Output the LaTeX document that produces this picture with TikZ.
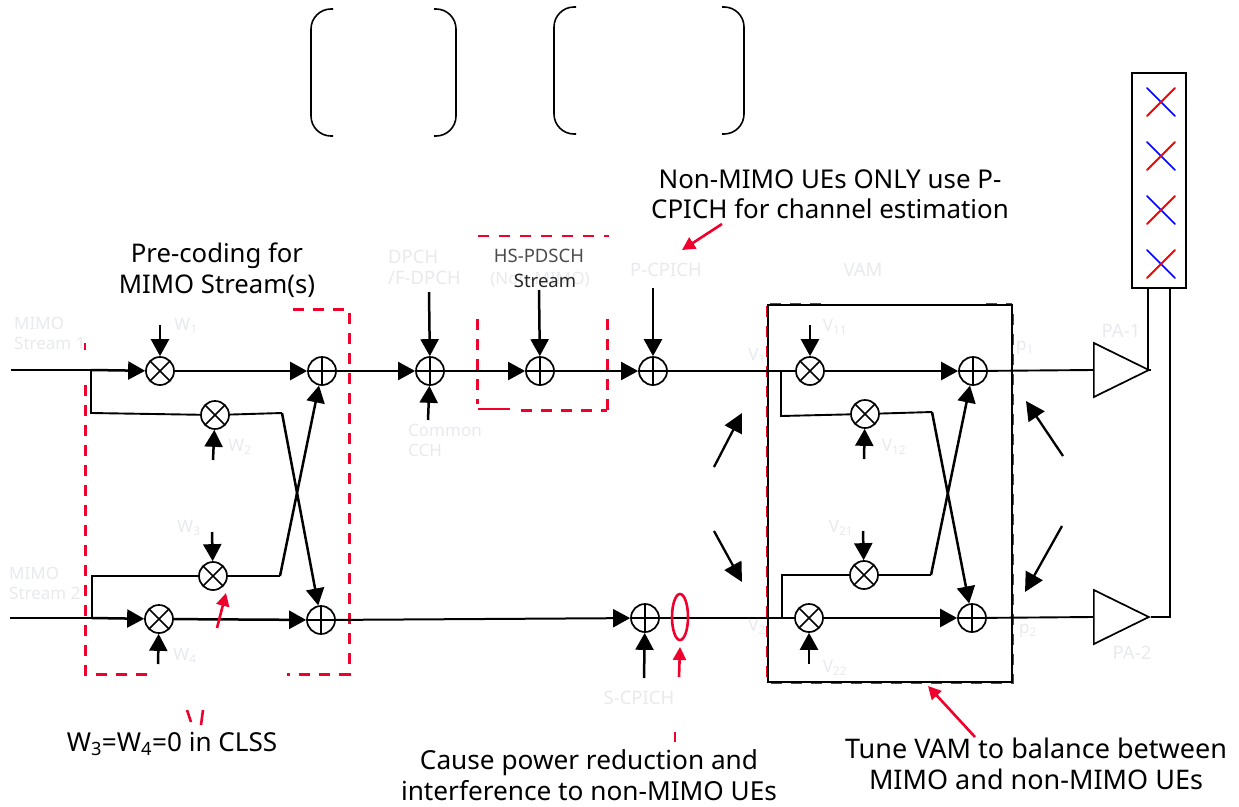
\documentclass[tikz,border=0pt]{standalone}
\usepackage{fontspec}
\setmainfont{Noto Sans}
\usetikzlibrary{arrows.meta,shapes.geometric,calc}
\definecolor{dashred}{RGB}{240,0,45}
\definecolor{ghost}{RGB}{232,234,238}
\tikzset{
  sig/.style={line width=1.9pt,black},
  thicksig/.style={line width=2.5pt,black},
  sigto/.style={line width=2.5pt,black,-{Triangle[length=17pt,width=18pt]}},
  ctrl/.style={line width=2.5pt,black,-{Triangle[length=17pt,width=18pt]}},
  slant/.style={line width=2.3pt,black,-{Triangle[length=19pt,width=19pt]}},
  mixer/.style={circle,draw=black,line width=1.7pt,fill=white,minimum size=28pt,inner sep=0pt,
    path picture={\draw[line width=1.5pt] (path picture bounding box.north west)--(path picture bounding box.south east)
      (path picture bounding box.north east)--(path picture bounding box.south west);}},
  adder/.style={circle,draw=black,line width=1.7pt,fill=white,minimum size=28pt,inner sep=0pt,
    path picture={\draw[line width=1.5pt] (path picture bounding box.north)--(path picture bounding box.south)
      (path picture bounding box.east)--(path picture bounding box.west);}},
  pa/.style={isosceles triangle,isosceles triangle apex angle=53,isosceles triangle stretches,draw=black,line width=1.7pt,
    minimum width=54pt,minimum height=55pt,inner sep=0pt,anchor=lower side},
  reddash/.style={dashred,line width=3pt,dash pattern=on 11pt off 9pt},
  vamdash/.style={dashred,line width=2pt,dash pattern=on 11pt off 9pt},
  redthin/.style={dashred,line width=1.3pt,dash pattern=on 11pt off 10pt},
  redarrow/.style={dashred,line width=2.6pt,-{Triangle[length=13pt,width=13pt]}},
  note/.style={font=\fontsize{#1}{30.5}\selectfont,text=black,align=center,inner sep=0pt},
  faint/.style={font=\fontsize{17}{20}\selectfont,text=ghost,inner sep=0pt,align=left},
  faintcaps/.style={faint,font=\fontsize{18.5}{21}\selectfont},
  brk/.style={line width=1.6pt,black,rounded corners=20pt},
  xblue/.style={blue,line width=1.7pt,line cap=round},
  xred/.style={red,line width=2pt,line cap=round},
}
\begin{document}
\begin{tikzpicture}[x=1pt,y=-1pt]
\useasboundingbox (0,0) rectangle (1239,806);
\fill[white] (0,0) rectangle (1239,806);

% brackets
\coordinate (b1a) at (333,9); \coordinate (b1b) at (311,9); \coordinate (b1c) at (311,136); \coordinate (b1d) at (333,136);
\coordinate (b2a) at (434,9); \coordinate (b2b) at (456,9); \coordinate (b2c) at (456,136); \coordinate (b2d) at (434,136);
\coordinate (b3a) at (576,7); \coordinate (b3b) at (554,7); \coordinate (b3c) at (554,134); \coordinate (b3d) at (576,134);
\coordinate (b4a) at (722,7); \coordinate (b4b) at (744,7); \coordinate (b4c) at (744,134); \coordinate (b4d) at (722,134);
\draw[brk] (b1a)--(b1b)--(b1c)--(b1d);
\draw[brk] (b2a)--(b2b)--(b2c)--(b2d);
\draw[brk] (b3a)--(b3b)--(b3c)--(b3d);
\draw[brk] (b4a)--(b4b)--(b4c)--(b4d);

% red dashed frames
\draw[reddash] (85,385)--(85,674)--(151,674);
\draw[reddash] (293,309)--(349,309)--(349,674)--(287,674);
\draw[dashred,line width=1.5pt] (85,343)--(85,350);
\draw[redthin] (478,236)--(609,236);
\draw[reddash] (477,319)--(477,404);
\draw[reddash] (607,319)--(607,410);
\draw[dashred,line width=1.3pt] (478,409)--(510,409);
\draw[reddash] (521,410)--(607,410);
\draw[vamdash] (767,306)--(767,682.5)--(1013,682.5)--(1013,306);
\draw[vamdash] (770,304)--(822,304);
\draw[vamdash] (986,304)--(1012,304);

% VAM frame
\node[draw=black,line width=1.7pt,minimum width=244pt,minimum height=377pt,inner sep=0pt] (vam) at (890,493.5) {};

% precoder
\node[mixer] (m1) at (160,371) {};
\node[mixer] (m2) at (215,415) {};
\node[mixer] (m3) at (213,576) {};
\node[mixer] (m4) at (159,619) {};
\node[adder] (s1) at (322,371) {};
\node[adder] (s2) at (321,620) {};
% combiners
\node[adder] (dp) at (430,371) {};
\node[adder] (hs) at (540,371) {};
\node[adder] (pc) at (653,371) {};
\node[adder] (sc) at (645,618) {};
% VAM
\node[mixer] (v11) at (810,371) {};
\node[mixer] (v12) at (865,414) {};
\node[mixer] (v21) at (864,575) {};
\node[mixer] (v22) at (809,618) {};
\node[adder] (t1) at (973,371) {};
\node[adder] (t2) at (972,618) {};
% PAs
\node[pa] (pa1) at (1093,370) {};
\node[pa] (pa2) at (1093,617) {};
% antenna
\node[draw=black,line width=2.2pt,minimum width=54pt,minimum height=215pt,inner sep=0pt] (ant) at (1159,180.5) {};

% free ends
\coordinate (in1) at (11,370);
\coordinate (in2) at (10,618);
\coordinate (j1) at (91,370);
\coordinate (j1d) at (91,413);
\coordinate (j2) at (92,618);
\coordinate (j2u) at (92,576);
\coordinate (k1) at (282,413);
\coordinate (k3) at (280,576);
\coordinate (j3) at (781,371);
\coordinate (j3d) at (781,416);
\coordinate (j4) at (782,618);
\coordinate (j4u) at (782,575);
\coordinate (k5) at (932,412);
\coordinate (k7) at (931,575);
\coordinate (up1) at ($(ant.south west)+(17,0)$);
\coordinate (up2) at ($(ant.south west)+(39,0)$);
\coordinate (r1) at (up1 |- pa1.apex);
\coordinate (r2) at (up2 |- pa2.apex);

% input and branches
\draw[thicksig] (in1)--(j1);
\draw[sigto] (j1)--(m1);
\draw[sig] (j1)--(j1d)--(m2);
\draw[sigto] (m1)--(s1);
\draw[sig] (m2)--(k1);
\draw[sigto] (k1)--(s2);
\draw[thicksig] (in2)--(j2);
\draw[sigto] (j2)--(m4);
\draw[sig] (j2)--(j2u)--(m3);
\draw[sigto] (m4)--(s2);
\draw[sig] (m3)--(k3);
\draw[sigto] (k3)--(s1);

% chain
\draw[sigto,line width=2pt] (s1)--(dp);
\draw[sigto,line width=2pt] (dp)--(hs);
\draw[sigto,line width=2pt] (hs)--(pc);
\draw[sig] (pc)--(j3);
\draw[sig] (j3)--(v11);
\draw[sigto,line width=2pt] (s2)--(sc);
\draw[sig] (sc)--(j4);
\draw[sig] (j4)--(v22);
\draw[sig] (j3)--(j3d)--(v12);
\draw[sig] (j4)--(j4u)--(v21);
\draw[sigto] (v11)--(t1);
\draw[sig] (v12)--(k5);
\draw[sigto] (k5)--(t2);
\draw[sigto] (v22)--(t2);
\draw[sig] (v21)--(k7);
\draw[sigto] (k7)--(t1);
\draw[sig] (t1)--(pa1.lower side);
\draw[sig] (t2)--(pa2.lower side);
\draw[sig] (pa1.apex)--(r1)--(up1);
\draw[sig] (pa2.apex)--(r2)--(up2);

% control inputs
\coordinate (c1) at (160,325); \draw[ctrl] (c1)--(m1);
\coordinate (c2) at (213,460); \draw[ctrl] (c2)--(m2);
\coordinate (c3) at (212,532); \draw[ctrl] (c3)--(m3);
\coordinate (c4) at (158,664); \draw[ctrl] (c4)--(m4);
\coordinate (c5) at (429,292); \draw[ctrl] (c5)--(dp);
\coordinate (c6) at (428,420); \draw[ctrl] (c6)--(dp);
\coordinate (c7) at (539,290); \draw[ctrl] (c7)--(hs);
\coordinate (c8) at (653,288); \draw[ctrl] (c8)--(pc);
\coordinate (c9) at (644,678); \draw[ctrl] (c9)--(sc);
\coordinate (c10) at (810,325); \draw[ctrl] (c10)--(v11);
\coordinate (c11) at (864,459); \draw[ctrl] (c11)--(v12);
\coordinate (c12) at (863,531); \draw[ctrl] (c12)--(v21);
\coordinate (c13) at (809,664); \draw[ctrl] (c13)--(v22);

% slanted black arrows
\coordinate (a1a) at (714,467); \coordinate (a1b) at (742,413); \draw[slant] (a1a)--(a1b);
\coordinate (a2a) at (714,531); \coordinate (a2b) at (742,582); \draw[slant] (a2a)--(a2b);
\coordinate (a3a) at (1063,456); \coordinate (a3b) at (1026,401); \draw[slant] (a3a)--(a3b);
\coordinate (a4a) at (1062,526); \coordinate (a4b) at (1025,592); \draw[slant] (a4a)--(a4b);

% crosses in antenna
\foreach \n/\yy in {a/102,b/156,c/210,d/264}{
  \coordinate (x\n1) at (1147,\yy-14); \coordinate (x\n2) at (1175,\yy+14);
  \coordinate (x\n3) at (1147,\yy+14); \coordinate (x\n4) at (1175,\yy-14);
  \draw[xblue] (x\n1)--(x\n2);
  \draw[xred] (x\n3)--(x\n4);
}

% red marks
\node[draw=dashred,line width=2.6pt,ellipse,minimum width=16pt,minimum height=46pt,inner sep=0pt] (el) at (680,617) {};
\coordinate (ra1) at (217,628); \coordinate (ra2) at (226,593); \draw[redarrow] (ra1)--(ra2);
\coordinate (ra3) at (679,677); \coordinate (ra4) at (680,647); \draw[redarrow] (ra3)--(ra4);
\coordinate (ra5) at (975,737); \coordinate (ra6) at (928,686); \draw[redarrow] (ra5)--(ra6);
\coordinate (ra7) at (722,224); \coordinate (ra8) at (682,250); \draw[redarrow] (ra7)--(ra8);
\coordinate (t1a) at (187,710); \coordinate (t1b) at (191,722); \draw[dashred,line width=2.6pt] (t1a)--(t1b);
\coordinate (t2a) at (203,710); \coordinate (t2b) at (201,725); \draw[dashred,line width=2.6pt] (t2a)--(t2b);
\coordinate (t3a) at (675,732); \coordinate (t3b) at (675,742); \draw[dashred,line width=2.6pt] (t3a)--(t3b);

% notes
\node[note=25.7] (nPre) at (217,270) {Pre-coding for\\MIMO Stream(s)};
\node[note=25.9] (nNon) at (830,194) {Non-MIMO UEs ONLY use P-\\CPICH for channel estimation};
\node[note=26.1] (nW) at (172,744) {W\textsubscript{3}=W\textsubscript{4}=0 in CLSS};
\node[note=26.2] (nCause) at (589,775) {Cause power reduction and\\interference to non-MIMO UEs};
\node[note=27] (nTune) at (1036,764) {Tune VAM to balance between\\MIMO and non-MIMO UEs};

% faint labels
\node[faint,anchor=west] (l1) at (14,333) {MIMO\\Stream 1};
\node[faint,anchor=west] (l2) at (9,583) {MIMO\\Stream 2};
\node[faint] (lw1) at (186,326) {W\textsubscript{1}};
\node[faint] (lw2) at (240,447) {W\textsubscript{2}};
\node[faint] (lw3) at (189,528) {W\textsubscript{3}};
\node[faint] (lw4) at (185,656) {W\textsubscript{4}};
\node[faintcaps,anchor=west] (ld) at (388,267) {DPCH\\/F-DPCH};
\node[faint,anchor=west] (lc) at (408,440) {Common\\CCH};
\node[faintcaps] (lp) at (666,270) {P-CPICH};
\node[faintcaps] (ls) at (639,698) {S-CPICH};
\node[faintcaps] (lv) at (863,270) {VAM};
\node[faint] (lv1) at (757,356) {V\textsubscript{1}};
\node[faint] (lv2) at (757,627) {V\textsubscript{2}};
\node[faint] (lv11) at (835,327) {V\textsubscript{11}};
\node[faint] (lv12) at (894,447) {V\textsubscript{12}};
\node[faint] (lv21) at (841,528) {V\textsubscript{21}};
\node[faint] (lv22) at (835,668) {V\textsubscript{22}};
\node[faint] (lp1) at (1025,348) {p\textsubscript{1}};
\node[faint] (lp2) at (1028,631) {p\textsubscript{2}};
\node[faintcaps] (lpa1) at (1121,331) {PA-1};
\node[faintcaps] (lpa2) at (1132,653) {PA-2};
\node[faintcaps,text=black!70] (lh1) at (539,256) {HS-PDSCH};
\node[faint] (lh2) at (540,280) {(Non-MIMO)};
\node[faintcaps,text=black!85] (lh3) at (545,281) {Stream};
\end{tikzpicture}
\end{document}
